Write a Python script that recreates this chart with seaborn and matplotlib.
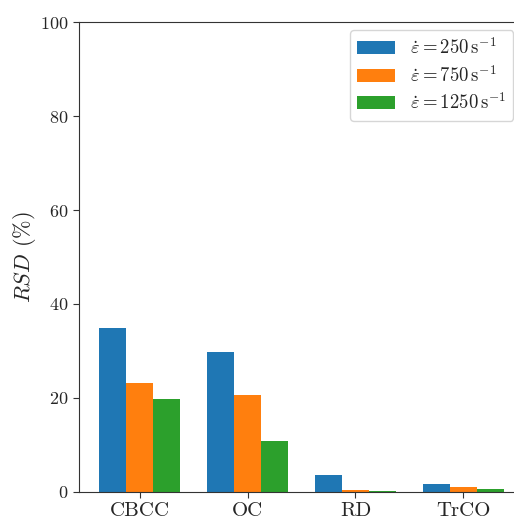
import numpy as np
import pandas as pd
import seaborn as sns
import matplotlib.pyplot as plt

# Data
categories = ["CBCC", "OC", "RD", "TrCO"]
rate_labels = [r"$\dot{\varepsilon} = 250\,\mathrm{s}^{-1}$",
               r"$\dot{\varepsilon} = 750\,\mathrm{s}^{-1}$",
               r"$\dot{\varepsilon} = 1250\,\mathrm{s}^{-1}$"]
rsd_250 = [34.9, 29.8, 3.6, 1.7]
rsd_750 = [23.2, 20.6, 0.5, 1.1]
rsd_1250 = [19.8, 10.9, 0.3, 0.6]

# Long form table for seaborn
df = pd.DataFrame({
    "method": categories * 3,
    "rate": [rate_labels[0]] * 4 + [rate_labels[1]] * 4 + [rate_labels[2]] * 4,
    "rsd": rsd_250 + rsd_750 + rsd_1250,
})

sns.set_style("ticks")
plt.rcParams["font.family"] = ["serif"]
plt.rcParams["font.serif"] = ["cmr10", "DejaVu Serif"]
plt.rcParams["mathtext.fontset"] = "cm"
plt.rcParams["axes.formatter.use_mathtext"] = True
plt.rcParams["axes.unicode_minus"] = False

fig = plt.figure(figsize=(5.14, 5.16), dpi=100)
ax = fig.add_axes([79 / 514, 24 / 516, 445 / 514, 470 / 516])

sns.barplot(data=df, x="method", y="rsd", hue="rate", order=categories,
            hue_order=rate_labels, palette=["#1f77b4", "#ff7f0e", "#2ca02c"],
            width=0.75, gap=0, saturation=1, linewidth=0, ax=ax)

ax.set_xlim(-0.5625, 3.5625)
ax.set_ylim(0, 100)
ax.set_yticks([0, 20, 40, 60, 80, 100])
ax.set_xlabel("")
ax.set_ylabel(r"$RSD$ (%)", fontsize=16)
ax.yaxis.set_label_coords(-0.092, 0.5)
ax.tick_params(axis="both", labelsize=13, length=4, color="#333333")
ax.tick_params(axis="x", labelsize=15, pad=3)
for side in ["left", "bottom", "top"]:
    ax.spines[side].set_color("#333333")
ax.spines["right"].set_visible(False)

leg = ax.legend(loc="upper right", bbox_to_anchor=(0.999, 0.942),
                bbox_transform=fig.transFigure, borderaxespad=0,
                fontsize=13.5, labelspacing=0.35, frameon=True)
leg.get_frame().set_edgecolor("#cccccc")

fig.savefig("out.png", dpi=100)
